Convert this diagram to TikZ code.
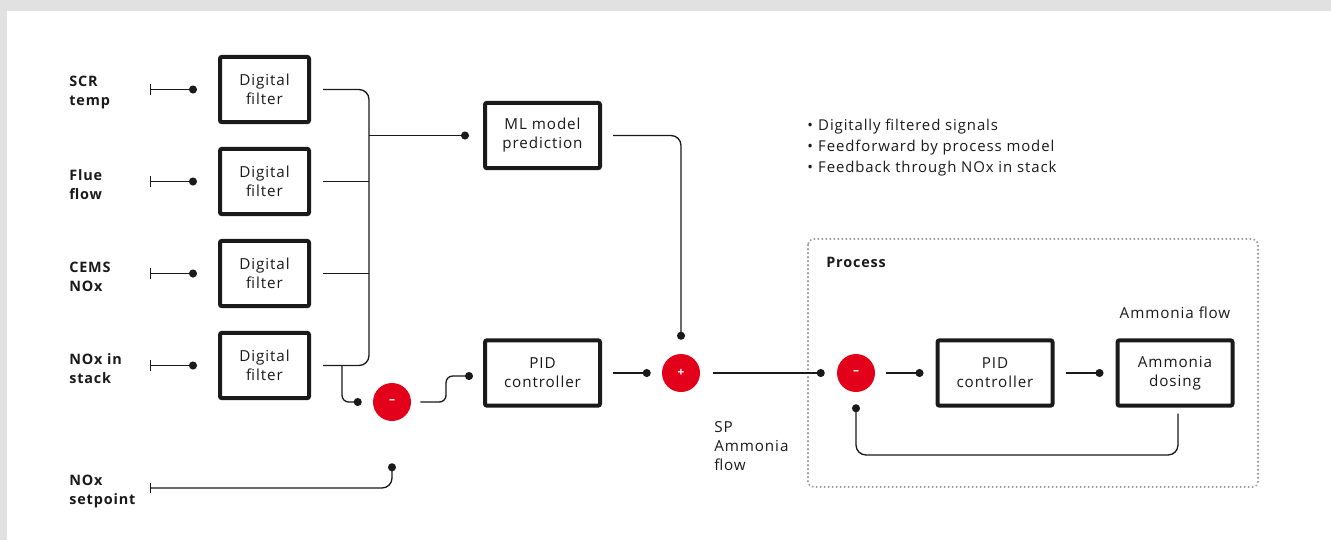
\documentclass[tikz,border=0pt]{standalone}
\usepackage{fontspec}
\setmainfont{Open Sans}[LetterSpace=6]
\usetikzlibrary{arrows.meta}
\definecolor{abbred}{HTML}{E2001A}
\definecolor{bggray}{HTML}{E1E1E1}
\definecolor{ink}{HTML}{1A1A1A}
\definecolor{framegray}{HTML}{9A9A9A}

\begin{document}
\begin{tikzpicture}[x=0.75pt,y=-0.75pt,
  font=\fontsize{11.4pt}{14.25pt}\selectfont,
  every node/.style={text=ink},
  blockbox/.style={draw=ink, line width=3pt, rounded corners=1.5pt,
    minimum height=49pt, align=center, inner sep=0pt, fill=white},
  filterbox/.style={blockbox, minimum width=66.75pt},
  widebox/.style={blockbox, minimum width=86.25pt},
  sumjunction/.style={circle, fill=abbred, minimum size=28.5pt, inner sep=0pt,
    text=white, font=\fontsize{9pt}{9pt}\selectfont\bfseries},
  signame/.style={anchor=west, align=left, inner sep=0pt, font=\fontsize{10.8pt}{14.25pt}\selectfont\bfseries},
  wire/.style={line width=1pt, draw=ink},
  todot/.style={wire, -{Circle[length=6pt]}},
  inputwire/.style={wire, {Bar[width=8pt]}-{Circle[length=6pt]}},
  processframe/.style={draw=framegray, line width=1.2pt, dash pattern=on 1.1pt off 1.9pt, rounded corners=4pt},
]
% canvas
\fill[bggray] (0,0) rectangle (1331,540);
\fill[white] (7,11) rectangle (1331,540);
\useasboundingbox (0,0) rectangle (1331,540);

% signal names
\node[signame] at (69,93) {SCR\\temp};
\node[signame] at (69,185) {Flue\\flow};
\node[signame] at (69,277) {CEMS\\NOx};
\node[signame] at (69,369) {NOx in\\stack};
\node[signame] at (69,491) {NOx\\setpoint};

% filters
\node[filterbox] (f1) at (264.5,89.5) {Digital\\filter};
\node[filterbox] (f2) at (264.5,181.5) {Digital\\filter};
\node[filterbox] (f3) at (264.5,273.5) {Digital\\filter};
\node[filterbox] (f4) at (264.5,365.5) {Digital\\filter};

% signal sources
\coordinate (s1) at (150,89.5);
\coordinate (s2) at (150,181.5);
\coordinate (s3) at (150,273.5);
\coordinate (s4) at (150,365.5);
\coordinate (sp) at (150,488);

\draw[inputwire, shorten >=15.75pt] (s1) -- (f1);
\draw[inputwire, shorten >=15.75pt] (s2) -- (f2);
\draw[inputwire, shorten >=15.75pt] (s3) -- (f3);
\draw[inputwire, shorten >=15.75pt] (s4) -- (f4);

% control blocks
\node[widebox] (ml) at (542.5,135.5) {ML model\\prediction};
\node[widebox] (pid1) at (542.5,373) {PID\\controller};
\node[sumjunction] (m1) at (392,402) {--};
\node[sumjunction] (plus) at (681,373) {+};

% filtered signal bus
\coordinate (busB) at (369,365.5);
\coordinate (tap) at (369,135.5);
\coordinate (split) at (342,365.5);
\draw[wire, rounded corners=7.5pt] ([xshift=9pt]f1.east) -| (busB) -- ([xshift=9pt]f4.east);
\draw[wire] ([xshift=9pt]f2.east) -- (f2.east -| busB);
\draw[wire] ([xshift=9pt]f3.east) -- (f3.east -| busB);
\draw[todot, shorten >=10.5pt] (tap) -- (ml);

% feedback and setpoint into the error junction
\draw[todot, rounded corners=5pt, shorten >=8.25pt] (split) |- (m1);
\draw[inputwire, rounded corners=7.5pt, shorten >=31.5pt] (sp) -| (m1);

% error to PID, PID and model to the summing junction
\draw[todot, rounded corners=5pt, shorten >=7.5pt]
  ([xshift=6.75pt]m1.east) -- (446,402) -- (446,376) -- ([yshift=-2.25pt]pid1.west);
\draw[todot, shorten <=8.25pt, shorten >=8.25pt] (pid1) -- (plus);
\draw[todot, rounded corners=7.5pt, shorten <=8.25pt, shorten >=10.5pt] (ml) -| (plus);

% notes
\node[anchor=west, align=left, inner sep=0pt, font=\fontsize{11.2pt}{15.75pt}\selectfont] at (807,148)
  {•\hspace{4pt}Digitally filtered signals\\•\hspace{4pt}Feedforward by process model\\•\hspace{4pt}Feedback through NOx in stack};

% process loop
\draw[processframe] (808,239) rectangle (1258,487);
\node[signame] at (826,262) {Process};
\node[sumjunction] (m2) at (856,373) {--};
\node[widebox] (pid2) at (995,373) {PID\\controller};
\node[widebox] (dose) at (1175,373) {Ammonia\\dosing};
\node at (1175,313) {Ammonia flow};
\node[anchor=west, align=left, inner sep=0pt] at (714,446) {SP\\Ammonia\\flow};

\coordinate (fb) at (856,455);
\draw[todot, shorten <=9.75pt, shorten >=9pt] (plus) -- (m2);
\draw[todot, shorten <=8.25pt, shorten >=9pt] (m2) -- (pid2);
\draw[todot, shorten <=8.25pt, shorten >=9pt] (pid2) -- (dose);
\draw[todot, rounded corners=7.5pt, shorten <=4.5pt, shorten >=9pt]
  ([xshift=2.25pt]dose.south) |- (fb) -- (m2);
\end{tikzpicture}
\end{document}
